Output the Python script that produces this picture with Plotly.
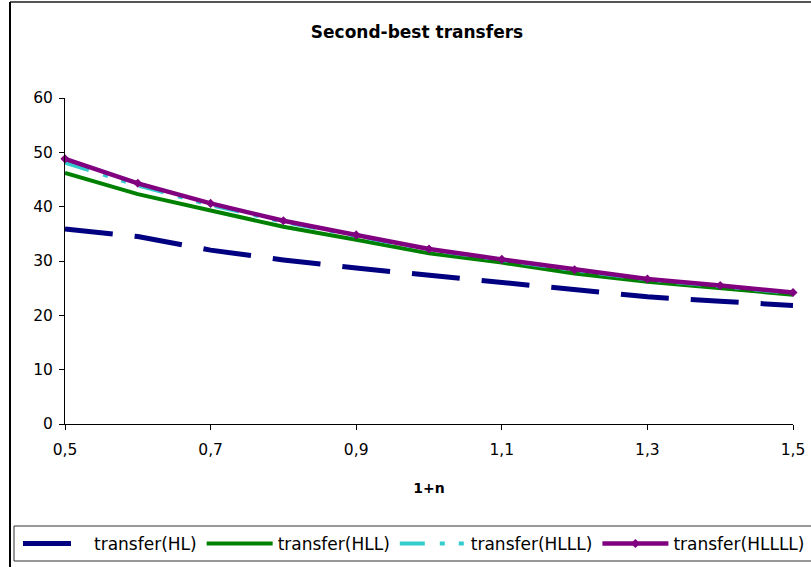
import plotly.graph_objects as go

# Data: transfers as a function of 1+n
x_vals = [0.5, 0.6, 0.7, 0.8, 0.9, 1.0, 1.1, 1.2, 1.3, 1.4, 1.5]
transfer_hl = [35.9, 34.5, 32.0, 30.2, 28.7, 27.4, 25.9, 24.7, 23.4, 22.6, 21.8]
transfer_hll = [46.2, 42.3, 39.3, 36.3, 33.9, 31.4, 29.7, 27.7, 26.2, 25.0, 23.8]
transfer_hlll = [48.1, 43.9, 40.3, 37.2, 34.6, 32.1, 30.2, 28.3, 26.6, 25.4, 24.1]
transfer_hllll = [48.8, 44.3, 40.6, 37.4, 34.8, 32.2, 30.3, 28.4, 26.7, 25.5, 24.2]

x_tickvals = [0.5, 0.7, 0.9, 1.1, 1.3, 1.5]
x_ticktext = ["0,5", "0,7", "0,9", "1,1", "1,3", "1,5"]
y_tickvals = [0, 10, 20, 30, 40, 50, 60]

# Figure geometry (pixels)
W, H = 811, 567
L, R, T, B = 65, 793, 98, 424


def px_x(p):
    return (p - L) / (R - L)


def px_y(p):
    return (B - p) / (B - T)


fig = go.Figure()
fig.add_trace(go.Scatter(
    x=x_vals, y=transfer_hl, mode="lines", name="transfer(HL)",
    line=dict(color="#000080", width=5, dash="48px,22px"),
))
fig.add_trace(go.Scatter(
    x=x_vals, y=transfer_hll, mode="lines", name="transfer(HLL)",
    line=dict(color="#008000", width=4),
))
fig.add_trace(go.Scatter(
    x=x_vals, y=transfer_hlll, mode="lines", name="transfer(HLLL)",
    line=dict(color="#33CCCC", width=4, dash="25px,15px,5px,14px,5px,14px"),
))
fig.add_trace(go.Scatter(
    x=x_vals, y=transfer_hllll, mode="lines+markers", name="transfer(HLLLL)",
    line=dict(color="#800080", width=4.5),
    marker=dict(symbol="diamond", size=7, color="#800080"),
    cliponaxis=False,
))

font_family = "DejaVu Sans"

fig.update_layout(
    width=W, height=H,
    margin=dict(l=L, r=W - R, t=T, b=H - B, pad=0, autoexpand=False),
    paper_bgcolor="white", plot_bgcolor="white",
    font=dict(family=font_family, size=15.5, color="black"),
    title=dict(
        text="<b>Second-best transfers</b>",
        font=dict(family=font_family, size=17, color="black"),
        x=417 / W, xanchor="center", xref="container",
        y=1 - 32 / H, yanchor="middle", yref="container",
    ),
    xaxis=dict(
        range=[0.5, 1.5], tickvals=x_tickvals, ticktext=x_ticktext,
        showgrid=False, zeroline=False, showline=True, linecolor="black", linewidth=1,
        ticks="outside", ticklen=5, tickcolor="black", tickwidth=1,
        ticklabelstandoff=6, automargin=False,
        title=dict(text="<b>1+n</b>", font=dict(family=font_family, size=14), standoff=25),
    ),
    yaxis=dict(
        range=[0, 60], tickvals=y_tickvals,
        showgrid=False, zeroline=False, showline=True, linecolor="black", linewidth=1,
        ticks="outside", ticklen=5, tickcolor="black", tickwidth=1,
        ticklabelstandoff=3, automargin=False,
    ),
    legend=dict(
        orientation="h", xref="paper", yref="paper",
        x=px_x(18), xanchor="left", y=px_y(544), yanchor="middle",
        font=dict(family=font_family, size=17, color="black"),
        bgcolor="rgba(0,0,0,0)", borderwidth=0, itemwidth=66,
        tracegroupgap=0,
    ),
    showlegend=True,
)

# Outer chart frame and legend box
fig.add_shape(type="line", xref="paper", yref="paper",
              x0=px_x(10), x1=px_x(830), y0=px_y(2), y1=px_y(2),
              line=dict(color="#555555", width=2))
fig.add_shape(type="line", xref="paper", yref="paper",
              x0=px_x(10), x1=px_x(10), y0=px_y(2), y1=px_y(600),
              line=dict(color="black", width=2))
fig.add_shape(type="rect", xref="paper", yref="paper",
              x0=px_x(14), x1=px_x(830), y0=px_y(561), y1=px_y(526),
              line=dict(color="#333333", width=1))

fig.write_html("out.html")
